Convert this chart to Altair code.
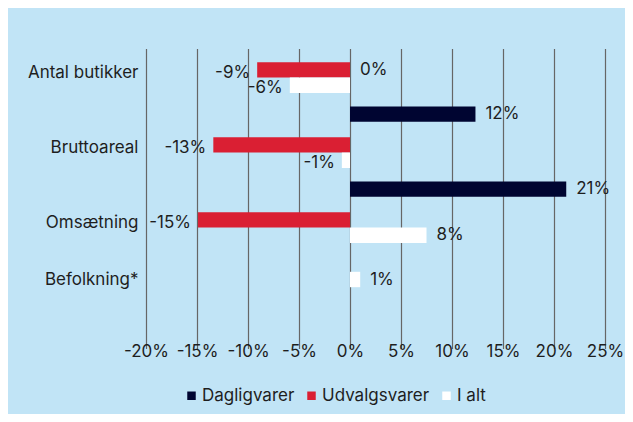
import altair as alt
import pandas as pd

categories = ["Antal butikker", "Bruttoareal", "Omsætning", "Befolkning*"]
series = ["Dagligvarer", "Udvalgsvarer", "I alt"]
dagligvarer = [0.0, 12.3, 21.2, None]
udvalgsvarer = [-9.1, -13.4, -14.9, None]
i_alt = [-5.9, -0.8, 7.5, 1.0]
x_ticks = [-20, -15, -10, -5, 0, 5, 10, 15, 20, 25]
colors = ["#000531", "#da1f33", "#ffffff"]

rows = []
for s, vals in zip(series, [dagligvarer, udvalgsvarer, i_alt]):
    for c, v in zip(categories, vals):
        if v is not None:
            rows.append({"kategori": c, "serie": s, "value": v})
df = pd.DataFrame(rows)

FONT = "Inter"
FS = 17
TXT = "#1e1e1e"
BG = "#c1e4f6"

base = alt.Chart(df).transform_calculate(
    slot="datum.kategori === 'Befolkning*' ? 'mid' : datum.serie",
    label="round(datum.value) + '%'",
)

x = alt.X(
    "value:Q",
    scale=alt.Scale(domain=[-20, 25], nice=False, zero=False),
    axis=alt.Axis(
        values=x_ticks, title=None, labelExpr="datum.value + '%'",
        ticks=False, domain=False, grid=True, gridColor="#666666",
        gridWidth=1.2, labelPadding=3, labelFontSize=FS, labelOverlap=False,
        labelFlush=False,
    ),
)
y = alt.Y(
    "kategori:N", sort=categories,
    scale=alt.Scale(range=[-8.6, 291.4], paddingInner=0, paddingOuter=0),
    axis=alt.Axis(
        title=None, ticks=False, domain=False, labelFontSize=FS,
        labelPadding=8,
        labelOffset={"condition": {"test": "datum.value === 'Befolkning*'", "value": -14}, "value": 4},
    ),
)
slot_scale = alt.Scale(
    domain=["Dagligvarer", "mid", "Udvalgsvarer", "I alt"],
    paddingInner=0, paddingOuter=0.435, align=0,
)

bars = base.mark_bar().encode(
    x=x, y=y,
    yOffset=alt.YOffset("slot:N", scale=slot_scale),
    color=alt.Color(
        "serie:N", sort=series,
        scale=alt.Scale(domain=series, range=colors),
        legend=alt.Legend(
            orient="none", legendX=37, legendY=347, direction="horizontal",
            title=None, symbolType="square", symbolSize=72, symbolStrokeWidth=0,
            labelFontSize=FS, columnPadding=8, labelOffset=2, symbolOpacity=1,
        ),
    ),
)

pos = base.transform_filter("datum.value >= 0").transform_calculate(
    lslot="datum.value === 0 ? 'Udvalgsvarer' : datum.slot"
).mark_text(align="left", dx=10, fontSize=FS, font=FONT, color=TXT).encode(
    x=x, y=y, yOffset=alt.YOffset("lslot:N", scale=slot_scale), text="label:N"
)

neg = base.transform_filter("datum.value < 0").mark_text(
    align="right", dx=-7, dy=3, fontSize=FS, font=FONT, color=TXT
).encode(
    x=x, y=y, yOffset=alt.YOffset("slot:N", scale=slot_scale), text="label:N"
)

chart = alt.layer(bars, pos, neg).properties(
    width=459, height=300, background=BG,
    padding={"left": 138, "top": 32, "right": 20, "bottom": 74},
    autosize=alt.AutoSizeParams(type="none"),
).configure_view(stroke=None).configure_axis(
    labelFont=FONT, labelColor=TXT
).configure_legend(labelFont=FONT, labelColor=TXT)

chart.save("out.html", embed_options={"renderer": "svg", "actions": False})
